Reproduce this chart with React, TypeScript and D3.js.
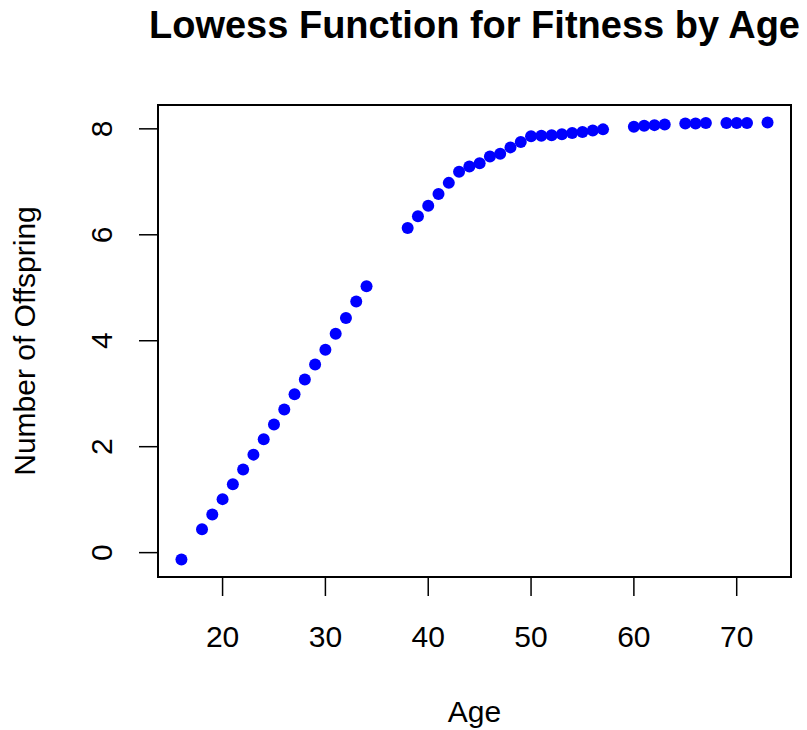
import React from "react";
import * as d3 from "d3";

// fitted lowess values
const ages = [
  16, 18, 19, 20, 21, 22, 23, 24, 25, 26, 27, 28, 29, 30, 31, 32, 33, 34,
  38, 39, 40, 41, 42, 43, 44, 45, 46, 47, 48, 49, 50, 51, 52, 53, 54, 55, 56, 57,
  60, 61, 62, 63, 65, 66, 67, 69, 70, 71, 73,
];
const offspring = [
  -0.13, 0.44, 0.72, 1.01, 1.29, 1.57, 1.85, 2.14, 2.42, 2.7, 2.99, 3.27, 3.55, 3.83, 4.13, 4.43, 4.74, 5.03,
  6.13, 6.35, 6.55, 6.77, 6.98, 7.19, 7.29, 7.35, 7.48, 7.53, 7.65, 7.75, 7.86, 7.87, 7.88, 7.9, 7.92, 7.94, 7.97, 7.99,
  8.04, 8.06, 8.07, 8.08, 8.1, 8.1, 8.11, 8.11, 8.11, 8.11, 8.12,
];
const xTicks = [20, 30, 40, 50, 60, 70];
const yTicks = [0, 2, 4, 6, 8];

const title = "Lowess Function for Fitness by Age";
const xLabel = "Age";
const yLabel = "Number of Offspring";

const width = 807;
const height = 730;
const margin = { top: 105, right: 16, bottom: 153, left: 158 };
const font = "'Liberation Sans', Arial, Helvetica, sans-serif";

// R style axis range: data range padded by 4% on each side
const padded = (lo: number, hi: number): [number, number] => {
  const r = hi - lo;
  return [lo - 0.04 * r, hi + 0.04 * r];
};

export default function App() {
  const points = ages.map((a, i) => ({ age: a, value: offspring[i] }));

  const x = d3
    .scaleLinear()
    .domain(padded(d3.min(ages)!, d3.max(ages)!))
    .range([margin.left, width - margin.right]);
  const y = d3
    .scaleLinear()
    .domain(padded(d3.min(offspring)!, d3.max(offspring)!))
    .range([height - margin.bottom, margin.top]);

  const [x0, x1] = x.range();
  const [yb, yt] = y.range();
  const tickLen = 19;

  return (
    <svg
      width={width}
      height={height}
      style={{ position: "absolute", left: 0, top: 0, background: "#fff" }}
      fontFamily={font}
    >
      <rect x={0} y={0} width={width} height={height} fill="#fff" />
      <text
        x={(x0 + x1) / 2}
        y={38}
        textAnchor="middle"
        fontSize={38}
        fontWeight="bold"
        fill="#000"
      >
        {title}
      </text>

      {points.map((d, i) => (
        <circle key={i} cx={x(d.age)} cy={y(d.value)} r={6} fill="#0000ff" />
      ))}

      <rect
        x={x0}
        y={yt}
        width={x1 - x0}
        height={yb - yt}
        fill="none"
        stroke="#000"
        strokeWidth={2}
      />

      <g>
        {xTicks.map((t) => (
          <g key={t}>
            <line x1={x(t)} x2={x(t)} y1={yb} y2={yb + tickLen} stroke="#000" strokeWidth={1.5} />
            <text x={x(t)} y={647} textAnchor="middle" fontSize={30} fill="#000">
              {t}
            </text>
          </g>
        ))}
      </g>

      <g>
        {yTicks.map((t) => (
          <g key={t}>
            <line x1={x0 - tickLen} x2={x0} y1={y(t)} y2={y(t)} stroke="#000" strokeWidth={1.5} />
            <text
              transform={`translate(112, ${y(t)}) rotate(-90)`}
              textAnchor="middle"
              fontSize={30}
              fill="#000"
            >
              {t}
            </text>
          </g>
        ))}
      </g>

      <text x={(x0 + x1) / 2} y={722} textAnchor="middle" fontSize={30} fill="#000">
        {xLabel}
      </text>
      <text
        transform={`translate(35, ${(yb + yt) / 2}) rotate(-90)`}
        textAnchor="middle"
        fontSize={30}
        fill="#000"
      >
        {yLabel}
      </text>
    </svg>
  );
}
